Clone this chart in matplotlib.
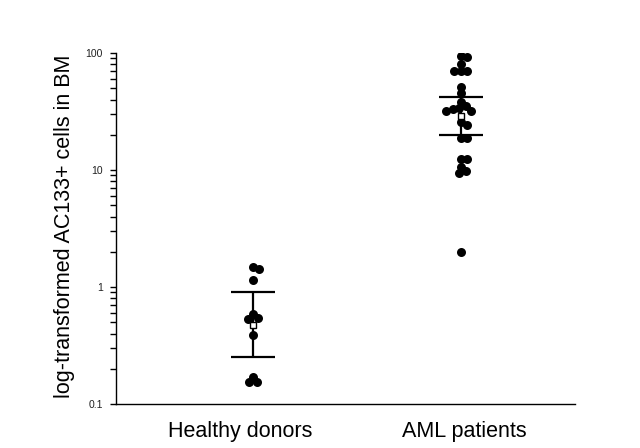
import numpy as np
import matplotlib
matplotlib.use("Agg")
import matplotlib.pyplot as plt
from matplotlib.transforms import ScaledTranslation

plt.rcParams["font.family"] = ["Liberation Sans", "DejaVu Sans"]

# values
groups = ["Healthy donors", "AML patients"]
healthy = [1.49, 1.43, 1.15, 0.587, 0.540, 0.533, 0.389, 0.170, 0.153, 0.153]
aml = [94.2, 91.9, 80.5, 70.6, 70.6, 70.6, 51.5, 45.2, 38.3, 35.2, 33.7, 33.0,
       32.1, 32.1, 25.9, 24.2, 18.7, 18.7, 12.4, 12.4, 10.7, 9.8, 9.4, 2.0]
centers = [0.473, 28.9]
err_low = [0.251, 19.9]
err_high = [0.90, 42.3]


def swarm_offsets(ax, x0, values, min_dist=6.5, step=0.5):
    """Greedy beeswarm in pixel space, returns x positions in data units."""
    trans = ax.transData
    ypx = np.array([trans.transform((x0, v))[1] for v in values])
    px_per_unit = trans.transform((1, 1))[0] - trans.transform((0, 1))[0]
    order = np.argsort(-np.asarray(values))
    placed = []
    xs = np.zeros(len(values))
    for i in order:
        k = 0
        while True:
            dx = ((k + 1) // 2) * step * (1 if k % 2 == 1 else -1)
            ok = all((dx - px) ** 2 + (ypx[i] - py) ** 2 >= min_dist ** 2
                     for px, py in placed)
            if ok:
                break
            k += 1
        placed.append((dx, ypx[i]))
        xs[i] = x0 + dx / px_per_unit
    return xs


fig = plt.figure(figsize=(6.4, 4.48), dpi=100)
ax = fig.add_axes([0.181, 0.0982, 0.717, 0.7835])
ax.set_yscale("log")
ax.set_ylim(0.1, 100)
ax.set_xlim(-0.66, 1.55)

for i, vals in enumerate([healthy, aml]):
    xs = swarm_offsets(ax, i, vals)
    ax.scatter(xs, vals, s=42, color="black", linewidths=0, zorder=3)
    ax.errorbar(i, centers[i],
                yerr=[[centers[i] - err_low[i]], [err_high[i] - centers[i]]],
                fmt="none", ecolor="black", elinewidth=1.6, capsize=15.5,
                capthick=1.6, zorder=2)
    ax.plot(i, centers[i], marker="s", ms=5, mfc="white", mec="black",
            mew=1.0, zorder=4)

for side in ["top", "right"]:
    ax.spines[side].set_visible(False)
for side in ["left", "bottom"]:
    ax.spines[side].set_linewidth(1.0)

ax.set_yticks([0.1, 1, 10, 100])
ax.set_yticklabels(["0.1", "1", "10", "100"])
ax.tick_params(axis="y", which="major", length=4.5, width=1.0, pad=5,
               labelsize=7.5, labelcolor="#202020")
ax.tick_params(axis="y", which="minor", length=4.5, width=1.0)

ax.set_xticks([0, 1])
ax.set_xticklabels(groups, fontsize=15.5)
ax.tick_params(axis="x", length=0, pad=12)
shifts = [-13, 4]
for lbl, dx in zip(ax.get_xticklabels(), shifts):
    lbl.set_transform(lbl.get_transform() + ScaledTranslation(dx / 72 * 0.72, 0, fig.dpi_scale_trans))

ax.set_ylabel("log-transformed AC133+ cells in BM", fontsize=15.5, va="center")
ax.yaxis.set_label_coords(-0.112, 0.506)

fig.savefig("out.png", dpi=100)
